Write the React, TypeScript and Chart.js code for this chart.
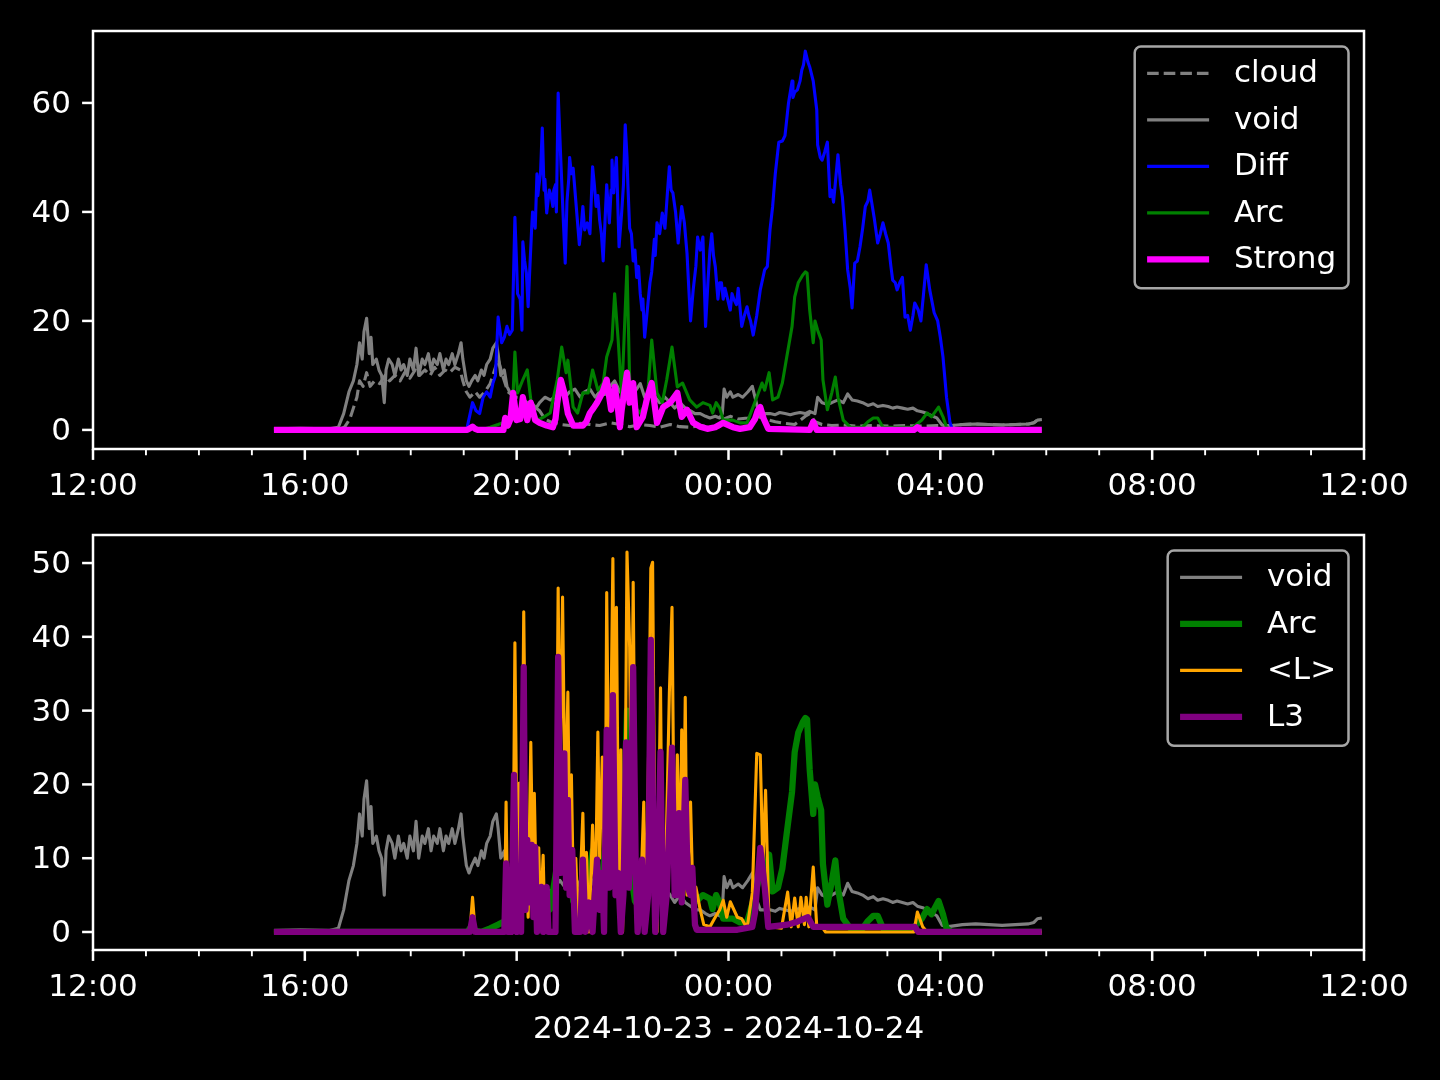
import React, { useEffect, useRef } from 'react';
import { Chart, registerables } from 'chart.js';

Chart.register(...registerables);

// ---- data: [minutes after 2024-10-23 12:00, value] ----
const DATE_LABEL = '2024-10-23 - 2024-10-24';
const X_TICK_HOURS = [0, 4, 8, 12, 16, 20, 24];
const TOP_Y_TICKS = [0, 20, 40, 60];
const BOTTOM_Y_TICKS = [0, 10, 20, 30, 40, 50];

const cloudSeries: [number, number][] = [[205,0.2],[268,0.2],[280,0.2],[285,0.5],[291,2],[295,4],[299,6],[302,9],[306,8],[310,10.5],[314,8],[319,9],[325,8.5],[331,10],[336,9],[342,10],[348,9],[353,10.5],[359,9.5],[365,11],[370,10],[376,11],[382,10],[387,11.5],[393,10],[399,11],[404,10.5],[410,11.5],[416,11],[419,9],[423,7],[427,6],[433,7],[438,6],[444,7],[450,8.5],[455,11],[459,13],[464,10],[470,7],[478,6],[484,6],[492,5],[498,4.5],[506,3.5],[512,2],[518,1.5],[529,1],[540,0.8],[552,1.2],[563,1],[574,0.8],[586,1.3],[597,1],[608,0.6],[620,1],[631,0.8],[642,0.5],[654,1],[665,0.6],[677,0.5],[688,0.8],[699,0.5],[710,0.6],[715,2],[722,2.5],[731,2],[742,2.2],[753,2.5],[761,2],[773,1.5],[784,1.2],[795,1],[807,2.5],[812,3],[818,1.5],[826,1],[837,0.8],[850,0.9],[866,0.7],[884,0.8],[901,0.7],[920,0.8],[940,0.7],[956,0.8],[962,0.8],[973,0.8],[985,1],[1000,1.1],[1015,1],[1030,0.9],[1045,1],[1060,1.1],[1066,1.3],[1070,1.8],[1075,1.9]];

const voidSeries: [number, number][] = [[205,0.2],[235,0.3],[268,0.2],[278,0.5],[284,3],[290,7],[295,9],[299,12],[302,16],[305,13],[307,18],[310,20.5],[313,14],[315,17],[317,12],[321,13],[324,11],[327,10],[330,5],[332,11],[335,13],[339,12],[342,10],[346,13],[349,11],[352,12],[356,10],[359,13],[363,11],[366,15],[369,10],[373,13],[376,12],[380,14],[383,11],[386,13],[390,12],[393,14],[397,11],[400,13],[403,12],[407,14],[410,12],[414,14],[417,16],[419,13],[423,9],[426,8],[429,9],[433,10],[436,9],[440,11],[443,10],[446,12],[450,13],[453,15],[457,16],[459,14],[462,10],[466,11],[469,8],[472,7],[476,6],[479,4],[484,3],[488,3.5],[493,4],[497,5],[502,4],[506,5],[512,6],[518,5.5],[523,6],[529,7],[535,6],[540,7],[546,7.5],[552,6],[557,7],[563,7.5],[569,6],[574,7],[580,6.5],[586,8],[591,9],[597,7],[603,8],[608,6],[614,7],[620,8.5],[625,6],[631,7],[637,6],[642,5],[648,6],[654,5],[659,4],[665,5],[671,4],[677,3.5],[682,3],[688,3],[694,2.5],[699,2.2],[705,2.5],[710,2.2],[713,3],[715,7.5],[718,6],[722,7],[725,6],[731,6.5],[736,6],[742,7],[747,8],[750,6],[753,4],[756,3],[761,3],[767,3],[773,2.8],[778,3.2],[784,3],[790,2.8],[795,3],[801,3.2],[807,3],[812,3.4],[818,3],[821,6],[826,5],[832,4.7],[837,5],[844,5.5],[850,5],[855,6.6],[860,5.5],[866,5.3],[872,5],[878,4.5],[884,4.8],[889,4.3],[895,4.5],[901,4.3],[906,4],[911,4.2],[917,4],[923,3.8],[929,4],[934,3.5],[940,3.3],[945,3],[950,2.6],[956,2.2],[962,0.9],[967,0.7],[973,0.8],[985,1],[1000,1.1],[1015,1],[1030,0.9],[1045,1],[1060,1.1],[1066,1.3],[1070,1.8],[1075,1.9]];

const diffSeries: [number, number][] = [[424,0.5],[430,5],[434,3.5],[438,3],[442,6],[446,7],[450,6],[453,8.5],[456,10],[459,20.7],[463,16],[466,17],[469,19],[472,17.5],[475,18.3],[478,39],[480,30],[481,25],[484,24],[486,18.3],[487,34.5],[489,31],[491,28.8],[493,22.6],[495,30],[497,37],[498,40],[501,37],[503,47],[504,43],[505,44.6],[507,47],[509,55.4],[511,44],[512,46],[514,39.8],[517,44],[519,43],[521,41],[522,44],[524,45],[525,40],[527,61.8],[530,49.5],[533,38],[535,30.6],[537,42],[539,46],[540,50],[542,47],[544,48],[547,42],[549,38],[551,34],[553,37],[555,41],[557,36.7],[560,38],[563,36],[564,40],[566,48.3],[568,45],[570,41],[572,43],[574,38.5],[576,36],[578,31],[580,38],[582,45],[585,38],[587,44],[588,49.5],[590,43.5],[591,46],[593,50],[596,33.6],[599,40],[601,45],[603,56],[605,50],[606,45],[608,37],[610,36],[612,31],[614,33],[616,28],[618,30],[620,25],[622,22],[623,24],[625,17],[628,22],[631,27],[633,29],[636,35],[637,32],[639,38],[642,36],[645,39.8],[648,37],[651,44],[653,48.3],[655,44],[657,43.5],[660,40],[663,34.3],[665,38],[667,41],[670,38],[673,32.4],[675,26],[677,20],[680,25.7],[683,30],[685,35.4],[688,33],[691,35.4],[694,19],[697,28],[699,33],[701,36],[703,32],[705,30],[708,24],[710,27],[712,27],[714,24],[716,26],[719,24],[722,22],[724,25],[726,24],[729,23],[731,26],[735,19],[738,21],[741,22.6],[743,21],[745,20],[748,17.4],[752,21],[756,25.7],[761,29.4],[764,30],[767,36.7],[770,41],[773,47],[777,52.8],[781,53],[784,54],[788,60],[792,64],[793,61],[795,62],[798,62.4],[801,64],[803,66],[805,67],[807,69.5],[810,67.5],[812,66.6],[816,64],[820,58.7],[821,52.3],[824,50],[826,49.5],[829,51],[832,52.8],[835,42.8],[837,44],[839,41.8],[842,47],[844,50.5],[847,45],[849,42.8],[852,36.7],[855,29.4],[858,26],[860,22.4],[863,30.6],[866,31],[869,33.6],[872,37],[875,41],[878,42],[880,44],[883,41],[885,39],[889,34.3],[892,36],[895,38],[898,36],[901,34.3],[904,30],[906,27.5],[909,27],[911,25.7],[914,27],[917,28],[920,20.7],[923,21],[926,18.3],[929,21],[931,23.3],[935,22],[938,20],[941,25],[944,30.3],[946,28],[948,25.7],[953,21.5],[957,20],[960,17],[963,13.4],[967,6],[971,1.3],[973,0.4]];

const arcSeries: [number, number][] = [[205,0],[424,0],[427,0.5],[433,0.2],[440,0],[450,0.5],[459,1],[464,1.3],[470,0.5],[475,3],[478,14.3],[481,6.8],[487,9.2],[492,11],[497,4.2],[504,1.8],[512,2.5],[518,3.1],[526,9.2],[531,15.2],[536,10.5],[538,12.8],[544,4.2],[549,3.1],[555,6.8],[561,6.8],[566,11],[572,7.3],[578,8.6],[582,13.4],[588,16.5],[591,25],[595,16.5],[599,6],[605,30],[608,9.2],[614,4.2],[620,3.1],[628,5.5],[633,16.5],[639,6.8],[645,5],[650,9.2],[656,15.2],[662,7.9],[668,8.6],[676,5.5],[684,4.2],[691,5],[699,4.5],[702,3.1],[706,5],[710,4],[714,1.8],[725,1.8],[733,1.3],[741,1.3],[752,6],[758,8.6],[761,7.3],[766,10.5],[770,5.5],[776,6],[781,8.6],[786,13.4],[792,19],[795,24.4],[799,27],[804,28.4],[807,29],[809,28.8],[812,22],[816,16],[818,20],[821,18.3],[825,16.5],[827,9.2],[832,3.7],[837,6.8],[841,9.7],[844,6],[850,1.8],[858,0.5],[872,0.5],[878,1.5],[884,2.2],[889,2.2],[895,0.5],[929,0.5],[939,1.8],[945,3.1],[950,2.4],[958,4.2],[963,2.4],[967,0.5],[973,0],[1075,0]];

const strongSeries: [number, number][] = [[205,0],[424,0],[427,0.3],[430,0.6],[433,0.2],[436,0],[465,0],[467,2.2],[470,0.8],[473,2],[476,6.8],[480,1.8],[484,2],[487,6],[492,1.8],[496,5],[501,1.8],[506,1.3],[514,0.8],[521,0.5],[524,2],[526,5],[530,9.2],[534,6.8],[538,3],[544,0.8],[555,0.8],[559,1.5],[563,3.1],[567,4],[571,5],[577,6.8],[582,9.2],[587,3.7],[591,7.9],[594,5],[597,0.5],[599,3.7],[605,10.5],[608,5],[612,8.6],[616,0.5],[623,2.4],[628,6],[633,8.6],[639,1.3],[646,4.2],[654,5],[662,6.8],[667,2.4],[673,3.7],[680,1.3],[688,0.6],[696,0.2],[705,0.5],[714,1.3],[725,0.5],[733,0.2],[744,0.5],[750,2],[753,3.5],[756,4.2],[760,2],[765,0.2],[812,0],[816,1.5],[820,0],[930,0],[934,0.5],[938,0],[1075,0]];

const lMeanSeries: [number, number][] = [[205,0],[427,0],[430,4.7],[433,0],[466,0],[468,17.6],[470,0],[472,0],[476,8],[478,39.2],[481,3],[483,20.2],[485,1],[488,43.4],[491,10],[493,2],[496,25.7],[498,10],[500,18.8],[503,0],[505,11.4],[507,2],[510,10.4],[512,0],[524,0],[527,46.6],[529,20],[532,45.4],[535,15],[538,32.5],[540,12],[542,21.3],[545,0],[547,10],[550,0],[555,16.1],[557,2],[559,10.8],[562,0],[566,14.5],[569,3],[572,27.1],[574,10],[577,23.7],[580,3],[582,46],[585,10],[589,50.6],[591,20],[593,44],[596,2],[598,24.7],[600,0],[603,20],[605,51.5],[608,38.6],[610,15],[612,47.4],[615,5],[616,0],[620,3],[624,17.6],[626,0],[629,20],[632,49.3],[634,50.1],[637,5],[639,0],[643,33.1],[645,5],[647,0],[650,15],[653,32.4],[656,44],[659,5],[662,24],[665,8],[667,27.4],[669,10],[671,31.8],[673,5],[677,17.6],[680,3],[683,6.1],[688,3],[692,1],[699,0.7],[705,2],[710,3],[714,4.3],[718,2],[722,4.1],[730,2],[735,1.8],[741,0.5],[747,5.3],[752,24.2],[756,24],[759,8.8],[762,19.2],[766,0.7],[780,0.5],[787,5.4],[791,0.7],[795,4.6],[799,0.7],[802,4.7],[806,1],[808,4.7],[811,0.7],[816,8.8],[820,0.7],[827,0.5],[830,0],[930,0],[934,2.7],[940,0.7],[945,0],[1075,0]];

const l3Series: [number, number][] = [[205,0],[427,0],[430,2],[433,0],[466,0],[468,9.3],[470,0],[474,0],[477,21.3],[480,0],[483,8],[485,0],[488,35.9],[490,3],[492,12.5],[494,4],[497,11.8],[499,2],[501,11.5],[503,0],[508,6.1],[510,0],[512,5],[514,6.1],[516,0],[524,0],[527,37.3],[530,8],[532,14],[534,24.2],[536,6],[538,17.9],[540,5],[543,11.1],[546,0],[552,0],[555,9.8],[558,0],[562,4],[566,0],[569,6],[571,9.8],[574,3],[577,8],[579,0],[582,27.4],[585,6],[589,32.1],[592,5],[595,8],[598,0],[601,5],[604,25.7],[607,6],[609,10],[612,35.9],[615,8],[617,0],[619,3],[622,9.8],[625,0],[629,5],[632,39.6],[635,12],[637,0],[640,8],[643,24.4],[646,0],[650,5],[653,15],[656,25],[659,5],[661,5],[664,16.1],[667,4],[671,20.6],[674,6],[677,5],[679,8.7],[682,1],[684,0.3],[700,0.3],[730,0.3],[747,0.7],[750,2.6],[756,11.4],[761,6.1],[765,0.7],[787,1],[798,1.4],[810,2],[816,0.7],[931,0.7],[935,0],[1075,0]];

// ---- helpers ----
const FS = 31;
const FONT_FAMILY = "'DejaVu Sans', 'Liberation Sans', sans-serif";
const toXY = (s: [number, number][]) => s.map(([m, v]) => ({ x: m / 60, y: v }));
const fmtHour = (v: number) => `${String((12 + v) % 24).padStart(2, '0')}:00`;

type Item = { label: string; color: string; width: number; dash?: number[] };

function framePlugin(items: Item[]) {
  return {
    id: 'mplFrame',
    afterDraw(chart: any) {
      const { ctx, chartArea: a, scales } = chart;
      ctx.save();
      ctx.strokeStyle = '#ffffff';
      ctx.setLineDash([]);
      // ticks
      const xs = scales.x;
      for (let h = 0; h <= 24; h++) {
        const px = xs.getPixelForValue(h);
        const major = h % 4 === 0;
        ctx.lineWidth = major ? 2.5 : 1.9;
        ctx.beginPath();
        ctx.moveTo(px, a.bottom);
        ctx.lineTo(px, a.bottom + (major ? 10.9 : 6.25));
        ctx.stroke();
      }
      const ys = scales.y;
      ctx.lineWidth = 2.5;
      for (const t of ys.ticks) {
        const py = ys.getPixelForValue(t.value);
        ctx.beginPath();
        ctx.moveTo(a.left, py);
        ctx.lineTo(a.left - 10.9, py);
        ctx.stroke();
      }
      // spines
      ctx.lineWidth = 2.5;
      ctx.strokeRect(a.left, a.top, a.right - a.left, a.bottom - a.top);

      // legend
      ctx.font = `${FS}px ${FONT_FAMILY}`;
      const pad = 0.4 * FS, hl = 2 * FS, htp = 0.8 * FS, ls = 0.5 * FS, rowH = FS;
      const tw = Math.max(...items.map((i) => ctx.measureText(i.label).width));
      const w = 2 * pad + hl + htp + tw;
      const h = 2 * pad + items.length * rowH + (items.length - 1) * ls;
      const right = a.right - 0.5 * FS;
      const top = a.top + 0.5 * FS;
      const left = right - w;
      const r = 0.2 * FS;
      ctx.beginPath();
      ctx.moveTo(left + r, top);
      ctx.lineTo(left + w - r, top);
      ctx.arcTo(left + w, top, left + w, top + r, r);
      ctx.lineTo(left + w, top + h - r);
      ctx.arcTo(left + w, top + h, left + w - r, top + h, r);
      ctx.lineTo(left + r, top + h);
      ctx.arcTo(left, top + h, left, top + h - r, r);
      ctx.lineTo(left, top + r);
      ctx.arcTo(left, top, left + r, top, r);
      ctx.closePath();
      ctx.fillStyle = 'rgba(0,0,0,0.8)';
      ctx.fill();
      ctx.strokeStyle = '#a6a6a6';
      ctx.lineWidth = 2.5;
      ctx.stroke();
      items.forEach((it, i) => {
        const cy = top + pad + rowH / 2 + i * (rowH + ls);
        ctx.strokeStyle = it.color;
        ctx.lineWidth = it.width;
        ctx.setLineDash(it.dash || []);
        ctx.lineCap = 'butt';
        ctx.beginPath();
        ctx.moveTo(left + pad, cy - 1);
        ctx.lineTo(left + pad + hl, cy - 1);
        ctx.stroke();
        ctx.setLineDash([]);
        ctx.fillStyle = '#ffffff';
        ctx.textBaseline = 'middle';
        ctx.textAlign = 'left';
        ctx.fillText(it.label, left + pad + hl + htp, cy);
      });
      ctx.restore();
    },
  };
}

function makeOptions(yMin: number, yMax: number, yTicks: number[], padTop: number, xHeight: number, title?: string): any {
  return {
    animation: false,
    responsive: false,
    devicePixelRatio: 1,
    layout: { padding: { left: 0, right: 76, top: padTop, bottom: 0 } },
    plugins: { legend: { display: false }, tooltip: { enabled: false } },
    elements: {
      point: { radius: 0 },
      line: { tension: 0, borderJoinStyle: 'round', borderCapStyle: 'butt', fill: false },
    },
    scales: {
      x: {
        type: 'linear',
        min: 0,
        max: 24,
        afterBuildTicks: (s: any) => {
          s.ticks = X_TICK_HOURS.map((v) => ({ value: v }));
        },
        afterFit: (s: any) => {
          s.height = xHeight;
          s.paddingLeft = 0;
          s.paddingRight = 0;
        },
        ticks: {
          color: '#ffffff',
          padding: 8,
          autoSkip: false,
          maxRotation: 0,
          font: { size: FS, family: FONT_FAMILY },
          callback: (v: any) => fmtHour(Number(v)),
        },
        grid: { display: true, drawOnChartArea: false, tickLength: 11, color: 'rgba(0,0,0,0)' },
        border: { display: false },
        title: title
          ? { display: true, text: title, color: '#ffffff', font: { size: FS, family: FONT_FAMILY }, padding: { top: 0, bottom: 31 } }
          : { display: false },
      },
      y: {
        type: 'linear',
        min: yMin,
        max: yMax,
        afterBuildTicks: (s: any) => {
          s.ticks = yTicks.map((v) => ({ value: v }));
        },
        afterFit: (s: any) => {
          s.width = 93;
          s.paddingTop = 0;
          s.paddingBottom = 0;
        },
        ticks: {
          color: '#ffffff',
          padding: 11,
          labelOffset: 2,
          font: { size: FS, family: FONT_FAMILY },
          callback: (v: any) => String(v),
        },
        grid: { display: true, drawOnChartArea: false, tickLength: 11, color: 'rgba(0,0,0,0)' },
        border: { display: false },
      },
    },
  };
}

const THIN = 3.1;
const THICK = 6.25;

export default function App() {
  const topRef = useRef<HTMLCanvasElement>(null);
  const botRef = useRef<HTMLCanvasElement>(null);

  useEffect(() => {
    document.body.style.margin = '0';
    document.body.style.background = '#000';
    Chart.defaults.font.family = FONT_FAMILY;
    Chart.defaults.color = '#ffffff';

    const topItems: Item[] = [
      { label: 'cloud', color: '#808080', width: THIN, dash: [11.6, 5] },
      { label: 'void', color: '#808080', width: THIN },
      { label: 'Diff', color: '#0000ff', width: THIN },
      { label: 'Arc', color: '#008000', width: THIN },
      { label: 'Strong', color: '#ff00ff', width: THICK },
    ];
    const topData = [cloudSeries, voidSeries, diffSeries, arcSeries, strongSeries];
    const top = new Chart(topRef.current as HTMLCanvasElement, {
      type: 'line',
      data: {
        datasets: topItems.map((it, i) => ({
          label: it.label,
          data: toXY(topData[i]),
          borderColor: it.color,
          borderWidth: it.width,
          borderDash: it.dash || [],
          order: topItems.length - i,
        })),
      },
      options: makeOptions(-3.5, 73.2, TOP_Y_TICKS, 31, 71),
      plugins: [framePlugin(topItems)],
    } as any);

    const botItems: Item[] = [
      { label: 'void', color: '#808080', width: THIN },
      { label: 'Arc', color: '#008000', width: THICK },
      { label: '<L>', color: '#ffa500', width: THIN },
      { label: 'L3', color: '#800080', width: THICK },
    ];
    const botData = [voidSeries, arcSeries, lMeanSeries, l3Series];
    const bot = new Chart(botRef.current as HTMLCanvasElement, {
      type: 'line',
      data: {
        datasets: botItems.map((it, i) => ({
          label: it.label,
          data: toXY(botData[i]),
          borderColor: it.color,
          borderWidth: it.width,
          borderDash: it.dash || [],
          order: botItems.length - i,
        })),
      },
      options: makeOptions(-2.44, 53.8, BOTTOM_Y_TICKS, 35, 130, DATE_LABEL),
      plugins: [framePlugin(botItems)],
    } as any);

    return () => {
      top.destroy();
      bot.destroy();
    };
  }, []);

  return (
    <div style={{ position: 'fixed', left: 0, top: 0, width: 1440, height: 1080, background: '#000', overflow: 'hidden' }}>
      <canvas ref={topRef} width={1440} height={520} style={{ position: 'absolute', left: 0, top: 0, width: 1440, height: 520 }} />
      <canvas ref={botRef} width={1440} height={580} style={{ position: 'absolute', left: 0, top: 500, width: 1440, height: 580 }} />
    </div>
  );
}
